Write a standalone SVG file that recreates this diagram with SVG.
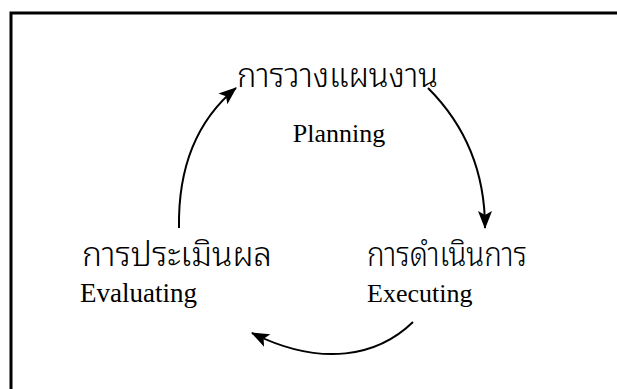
<svg xmlns="http://www.w3.org/2000/svg" width="617" height="389" viewBox="0 0 617 389">
  <defs>
    <marker id="head" viewBox="0 0 18 14" refX="17" refY="7" markerWidth="18" markerHeight="14" markerUnits="userSpaceOnUse" orient="auto">
      <path d="M0,0 L18,7 L0,14 L4,7 Z" fill="#000"/>
    </marker>
    <style>
      .th { font-family: "Noto Sans Thai Looped", "Noto Serif Thai", "Loma", "Garuda", "Noto Sans Thai", "Noto Sans", sans-serif; font-size: 34px; font-weight: 300; fill: #000; }
      .en { font-family: "Liberation Serif", "Times New Roman", serif; font-size: 26px; fill: #000; }
      .arc { fill: none; stroke: #000; stroke-width: 2; marker-end: url(#head); }
    </style>
  </defs>
  <rect width="617" height="389" fill="#fff"/>
  <!-- frame: top and left edges -->
  <path d="M11,389 V13 H617" fill="none" stroke="#000" stroke-width="3"/>

  <g id="planning">
    <text class="th" x="237" y="87" textLength="201" lengthAdjust="spacingAndGlyphs">การวางแผนงาน</text>
    <text class="en" x="339" y="142" text-anchor="middle">Planning</text>
  </g>
  <g id="executing">
    <text class="th" x="367" y="266" textLength="160" lengthAdjust="spacingAndGlyphs">การดำเนินการ</text>
    <text class="en" x="367" y="302">Executing</text>
  </g>
  <g id="evaluating">
    <text class="th" x="82" y="266" textLength="190" lengthAdjust="spacingAndGlyphs">การประเมินผล</text>
    <text class="en" x="80" y="302" style="font-size:27px">Evaluating</text>
  </g>

  <g id="connectors">
    <path class="arc" d="M179,228 C178,170 195,122 236,88"/>
    <path class="arc" d="M428,88 C462,122 485,168 485,228"/>
    <path class="arc" d="M413,322 C378,356 322,368 252,333"/>
  </g>
</svg>
